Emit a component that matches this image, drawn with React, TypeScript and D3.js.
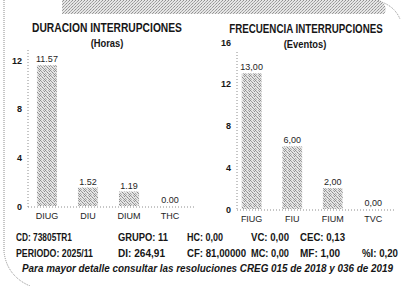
import React from 'react';
import * as d3 from 'd3';

// duración (horas)
const durCats = ['DIUG', 'DIU', 'DIUM', 'THC'];
const durValues = [11.57, 1.52, 1.19, 0.0];
const durTicks = [0, 4, 8, 12];

// frecuencia (eventos)
const freqCats = ['FIUG', 'FIU', 'FIUM', 'TVC'];
const freqValues = [13, 6, 2, 0];
const freqTicks = [0, 4, 8, 12, 16];

const infoRow1 = ['CD: 73805TR1', 'GRUPO: 11', 'HC: 0,00', 'VC: 0,00', 'CEC: 0,13'];
const infoRow2 = ['PERIODO: 2025/11', 'DI: 264,91', 'CF: 81,00000', 'MC: 0,00', 'MF: 1,00', '%I: 0,20'];
const footNote = 'Para mayor detalle consultar las resoluciones CREG 015 de 2018 y 036 de 2019';

const W = 401;
const H = 286;
const FONT = "'Liberation Sans Narrow', 'Arial Narrow', 'Liberation Sans', Arial, sans-serif";
const INK = '#161616';

const infoX = [16, 118, 187, 251, 300, 362];
const row1W = [56, 50, 36, 38, 45];
const row2W = [77, 47, 59, 38, 40, 36];

// speckle dots for the scanned halftone look
const speck = [
  [0, 0, '#8c8c8c'], [3, 0, '#b0b0b0'], [1, 1, '#a0a0a0'], [4, 1, '#909090'],
  [2, 2, '#8c8c8c'], [0, 3, '#a8a8a8'], [3, 3, '#9a9a9a'], [1, 4, '#b4b4b4'], [4, 4, '#8c8c8c'],
];

function Txt({ x, y, w, size, bold = true, italic = false, anchor = 'start', fill = INK, children }: any) {
  return (
    <text
      x={x}
      y={y}
      fontSize={size}
      fontWeight={bold ? 700 : 400}
      fontStyle={italic ? 'italic' : 'normal'}
      textAnchor={anchor}
      fill={fill}
      textLength={w}
      lengthAdjust={w ? 'spacingAndGlyphs' : undefined}
    >
      {children}
    </text>
  );
}

// condensed heading: squeezed horizontally with a transform
function Title({ x, y, sx, size, children }: any) {
  return (
    <text
      transform={`translate(${x},${y}) scale(${sx},1)`}
      fontSize={size}
      fontWeight={700}
      textAnchor="middle"
      fill={INK}
    >
      {children}
    </text>
  );
}

function Panel({ cats, values, ticks, yMax, range, base, top, axisX, axisTop, axisEnd, fmt, catY }: any) {
  const x = d3.scaleBand().domain(cats).range(range).paddingInner(0.51).paddingOuter(0.51);
  const y = d3.scaleLinear().domain([0, yMax]).range([base, top]);
  const dots = { stroke: '#8c8c8c', strokeWidth: 1, strokeDasharray: '1 2', fill: 'none' };
  return (
    <g>
      <line x1={axisX} x2={axisX} y1={axisTop} y2={base + 1} {...dots} />
      <line x1={axisX} x2={axisEnd} y1={base + 1} y2={base + 1} {...dots} />
      {ticks.map((t: number) => (
        <Txt key={t} x={axisX - 6} y={y(t) + 3.5} size={9} anchor="end">
          {t}
        </Txt>
      ))}
      {values.map((v: number, i: number) => (
        <rect
          key={cats[i]}
          x={x(cats[i])}
          y={y(v)}
          width={x.bandwidth()}
          height={base - y(v)}
          fill="url(#stip)"
        />
      ))}
      {values.map((v: number, i: number) => (
        <Txt key={'v' + i} x={x(cats[i])! + x.bandwidth() / 2} y={y(v) - 3} size={9} bold={false} anchor="middle" fill="#1e1e1e">
          {fmt(v)}
        </Txt>
      ))}
      {cats.map((c: string) => (
        <Txt key={c} x={x(c)! + x.bandwidth() / 2} y={catY} size={9} bold={false} anchor="middle" fill="#1e1e1e">
          {c}
        </Txt>
      ))}
    </g>
  );
}

export default function App() {
  const fmtDot = d3.format('.2f');
  const fmtComma = (v: number) => d3.format('.2f')(v).replace('.', ',');
  return (
    <svg width={W} height={H} style={{ position: 'absolute', left: 0, top: 0, background: '#fff' }} fontFamily={FONT}>
      <defs>
        <pattern id="stip" width="5" height="5" patternUnits="userSpaceOnUse">
          <rect width="5" height="5" fill="#e4e4e4" />
          {speck.map(([sx, sy, c], i) => (
            <rect key={i} x={sx} y={sy} width="1" height="1" fill={c as string} />
          ))}
        </pattern>
        <pattern id="band" width="3" height="3" patternUnits="userSpaceOnUse">
          <rect width="3" height="3" fill="#e6e6e6" />
          <rect x="0" y="0" width="1" height="1" fill="#909090" />
          <rect x="2" y="1" width="1" height="1" fill="#a0a0a0" />
          <rect x="1" y="2" width="1" height="1" fill="#b0b0b0" />
        </pattern>
      </defs>

      {/* marco escaneado */}
      <path d="M62 0 L380 0 Q389 7 384 14 L62 14 Z" fill="url(#band)" />
      <path d="M378 1 Q394 5 400 19" stroke="#8c8c8c" fill="none" strokeDasharray="1 1" />
      <path d="M4 0 L4 252 Q7 276 30 286" stroke="#8c8c8c" fill="none" strokeDasharray="1 1" />

      <Title x={107} y={31.5} sx={0.79} size={13}>DURACION INTERRUPCIONES</Title>
      <Title x={107} y={47} sx={0.85} size={11}>(Horas)</Title>
      <Title x={306} y={32.5} sx={0.75} size={13}>FRECUENCIA INTERRUPCIONES</Title>
      <Title x={305} y={47.5} sx={0.85} size={11}>(Eventos)</Title>

      <Panel
        cats={durCats}
        values={durValues}
        ticks={durTicks}
        yMax={12}
        range={[16, 201]}
        base={206}
        top={60}
        axisX={28}
        axisTop={50}
        axisEnd={196}
        fmt={fmtDot}
        catY={218.5}
      />
      <Panel
        cats={freqCats}
        values={freqValues}
        ticks={freqTicks}
        yMax={16}
        range={[221, 404]}
        base={209}
        top={42}
        axisX={237}
        axisTop={52}
        axisEnd={396}
        fmt={fmtComma}
        catY={222}
      />

      {infoRow1.map((s, i) => (
        <Txt key={s} x={infoX[i]} y={241} w={row1W[i]} size={10}>{s}</Txt>
      ))}
      {infoRow2.map((s, i) => (
        <Txt key={s} x={infoX[i]} y={257} w={row2W[i]} size={10}>{s}</Txt>
      ))}
      <Txt x={22} y={272} w={371} size={10} italic>{footNote}</Txt>
    </svg>
  );
}
